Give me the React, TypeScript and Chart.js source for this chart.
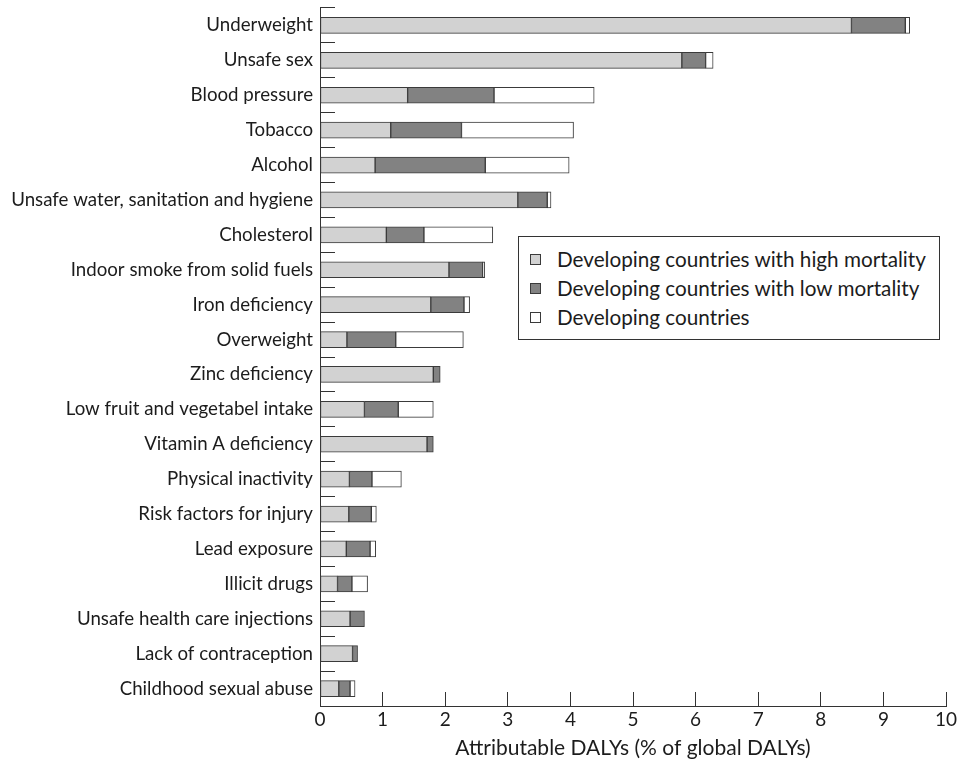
import React, { useEffect, useRef } from "react";
import { Chart, registerables } from "chart.js";

Chart.register(...registerables);

const categories = [
  "Underweight",
  "Unsafe sex",
  "Blood pressure",
  "Tobacco",
  "Alcohol",
  "Unsafe water, sanitation and hygiene",
  "Cholesterol",
  "Indoor smoke from solid fuels",
  "Iron deficiency",
  "Overweight",
  "Zinc deficiency",
  "Low fruit and vegetabel intake",
  "Vitamin A deficiency",
  "Physical inactivity",
  "Risk factors for injury",
  "Lead exposure",
  "Illicit drugs",
  "Unsafe health care injections",
  "Lack of contraception",
  "Childhood sexual abuse",
];

const highMortality = [8.49, 5.78, 1.4, 1.13, 0.88, 3.16, 1.06, 2.06, 1.77, 0.43, 1.81, 0.71, 1.71, 0.47, 0.46, 0.42, 0.28, 0.48, 0.52, 0.3];
const lowMortality = [0.86, 0.38, 1.38, 1.13, 1.76, 0.47, 0.6, 0.54, 0.53, 0.78, 0.11, 0.54, 0.1, 0.36, 0.36, 0.38, 0.23, 0.23, 0.08, 0.18];
const developed = [0.07, 0.12, 1.6, 1.79, 1.34, 0.06, 1.1, 0.03, 0.09, 1.08, 0, 0.56, 0, 0.47, 0.08, 0.09, 0.25, 0, 0, 0.08];

const seriesLabels = [
  "Developing countries with high mortality",
  "Developing countries with low mortality",
  "Developing countries",
];
const seriesColors = ["#d2d2d2", "#828282", "#ffffff"];

const xTicks = [0, 1, 2, 3, 4, 5, 6, 7, 8, 9, 10];
const xTitle = "Attributable DALYs (% of global DALYs)";

const FONT = "Lato, 'Noto Sans', sans-serif";
const INK = "#1c1c1c";
const LINE = "#333333";

export default function App() {
  const ref = useRef<HTMLCanvasElement | null>(null);

  useEffect(() => {
    if (!ref.current) return;
    const values = [highMortality, lowMortality, developed];
    const chart = new Chart(ref.current, {
      type: "bar",
      data: {
        labels: categories,
        datasets: values.map((v, i) => ({
          label: seriesLabels[i],
          data: v,
          backgroundColor: seriesColors[i],
          borderColor: "#3a3a3a",
          borderWidth: 1,
          borderSkipped: false,
          barThickness: 16,
        })),
      },
      options: {
        indexAxis: "y",
        animation: false,
        responsive: false,
        maintainAspectRatio: false,
        layout: { padding: { left: 0, right: 11, top: 8, bottom: 0 } },
        plugins: {
          legend: { display: false },
          tooltip: { enabled: false },
        },
        scales: {
          x: {
            type: "linear",
            stacked: true,
            min: 0,
            max: 10,
            afterBuildTicks: (scale: any) => {
              scale.ticks = xTicks.map((v) => ({ value: v }));
            },
            afterFit: (scale: any) => {
              scale.height = 56;
              scale.paddingLeft = 0;
              scale.paddingRight = 0;
            },
            grid: {
              drawOnChartArea: false,
              drawTicks: true,
              tickLength: -14,
              color: LINE,
              lineWidth: 1,
            },
            border: { display: true, color: LINE, width: 1 },
            ticks: {
              padding: 16,
              color: INK,
              font: { family: FONT, size: 19 },
              maxRotation: 0,
            },
            title: {
              display: true,
              text: xTitle,
              color: INK,
              font: { family: FONT, size: 21 },
              padding: { top: 0, bottom: 1 },
            },
          },
          y: {
            stacked: true,
            afterFit: (scale: any) => {
              scale.width = 320;
              scale.paddingTop = 0;
              scale.paddingBottom = 0;
            },
            grid: {
              offset: true,
              drawOnChartArea: false,
              drawTicks: true,
              tickLength: -15,
              color: LINE,
              lineWidth: 1,
            },
            border: { display: true, color: LINE, width: 1 },
            ticks: {
              padding: 22,
              color: INK,
              font: { family: FONT, size: 18.7 },
              autoSkip: false,
            },
          },
        },
      },
    });
    return () => chart.destroy();
  }, []);

  return (
    <div style={{ position: "absolute", left: 0, top: 0, width: 957, height: 762, background: "#fff" }}>
      <canvas ref={ref} width={957} height={762} style={{ display: "block" }} />
      <div
        style={{
          position: "absolute",
          left: 518,
          top: 236,
          width: 422,
          height: 104,
          border: "1px solid #333",
          background: "#fff",
          fontFamily: FONT,
          fontSize: 20.7,
          color: INK,
          boxSizing: "border-box",
          paddingTop: 8,
          paddingLeft: 11,
          lineHeight: 1,
        }}
      >
        {seriesLabels.map((lab, i) => (
          <div key={lab} style={{ display: "flex", alignItems: "center", height: 29 }}>
            <span
              style={{
                display: "inline-block",
                width: 11,
                height: 11,
                border: "1px solid #3a3a3a",
                background: seriesColors[i],
                marginRight: 16,
                boxSizing: "border-box",
                flex: "none",
              }}
            />
            <span>{lab}</span>
          </div>
        ))}
      </div>
    </div>
  );
}
